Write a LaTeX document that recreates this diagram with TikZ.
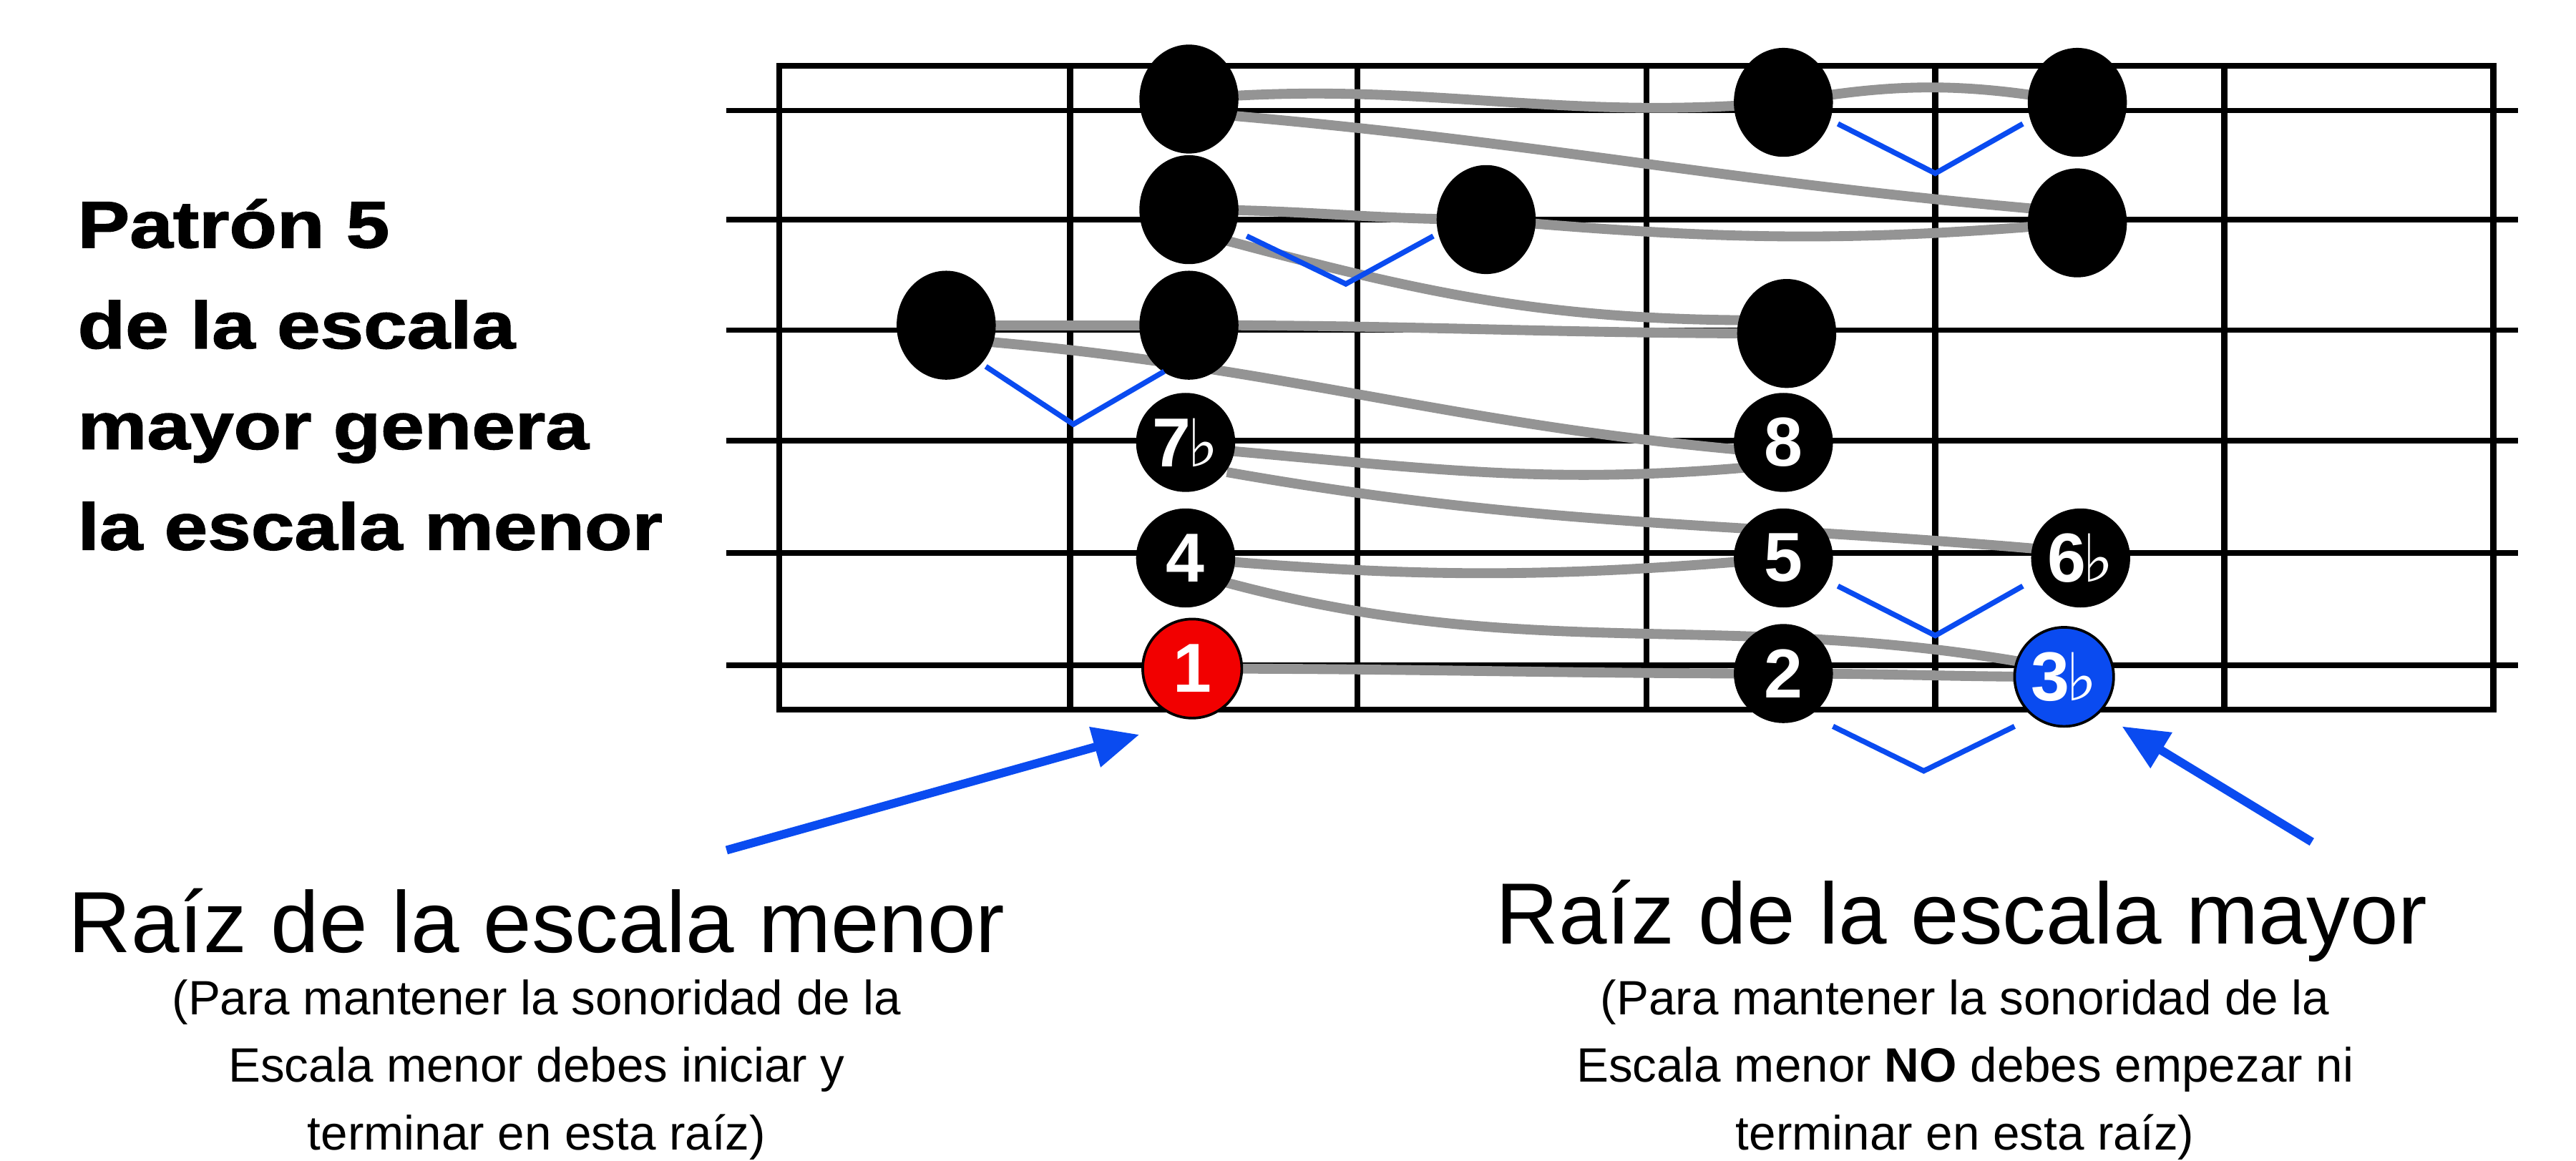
\documentclass[tikz,border=0pt]{standalone}
\usepackage{fontspec}
\setmainfont{Liberation Sans}
\newfontfamily\symf{DejaVu Sans}
\newfontfamily\titlef[FakeStretch=1.18,FakeBold=1.6]{Liberation Sans Bold}
\usetikzlibrary{arrows.meta,shapes.geometric}
\definecolor{myblue}{HTML}{0A4BF0}
\begin{document}
\begin{tikzpicture}[x=0.5pt,y=-0.5pt,
 big/.style={ellipse,fill=black,minimum width=30pt,minimum height=33pt,inner sep=0pt},
 num/.style={circle,fill=black,minimum size=30pt,inner sep=0pt,text=white,font=\bfseries\fontsize{21}{21}\selectfont},
 conn/.style={draw=black!42,line width=3pt},
 vee/.style={draw=myblue,line width=1.6pt},
 arr/.style={draw=myblue,line width=2.6pt,-{Triangle[length=14pt,width=12pt]}},
 strg/.style={line width=1.6pt}]
\newcommand\flt{\kern-1pt{\symf\fontsize{20}{20}\selectfont ♭}}
\useasboundingbox (0,0) rectangle (1560,703);
% fretboard
\draw[line width=1.8pt] (472,40) rectangle (1510,430);
\foreach \x in {648,822,997,1172,1347} \draw[line width=1.8pt] (\x,40) -- (\x,430);
\foreach \y in {67,133,200,267,335,403} \draw[strg] (440,\y) -- (1525,\y);
% dot positions
\coordinate (a1) at (720,60); \coordinate (a2) at (1080,62); \coordinate (a3) at (1258,62);
\coordinate (b1) at (720,127); \coordinate (b2) at (900,133); \coordinate (b3) at (1258,135);
\coordinate (c0) at (573,197); \coordinate (c1) at (720,197); \coordinate (c2) at (1082,202);
\coordinate (d1) at (718,268); \coordinate (d2) at (1080,268);
\coordinate (e1) at (718,338); \coordinate (e2) at (1080,338); \coordinate (e3) at (1260,338);
\coordinate (f1) at (722,405); \coordinate (f2) at (1080,408); \coordinate (f3) at (1250,410);
% connectors
\draw[conn] (a1) to[out=5,in=185] (a2);
\draw[conn] ([shift={(25,10)}]a1) to[out=-5,in=175] ([shift={(-20,-8)}]b3);
\draw[conn] (a2) to[out=10,in=170] (a3);
\draw[conn] (b1) to[out=0,in=180] (b2);
\draw[conn] ([shift={(20,18)}]b1) to[out=-15,in=180] ([shift={(-15,-8)}]c2);
\draw[conn] (b2) to[out=-5,in=185] (b3);
\draw[conn] (c0) to[out=0,in=180] (c1);
\draw[conn] ([shift={(25,10)}]c0) to[out=-5,in=175] ([shift={(-20,5)}]d2);
\draw[conn] (c1) to[out=0,in=180] (c2);
\draw[conn] ([shift={(25,5)}]d1) to[out=-5,in=185] ([shift={(-20,15)}]d2);
\draw[conn] ([shift={(25,18)}]d1) to[out=-10,in=175] ([shift={(-20,-5)}]e3);
\draw[conn] (e1) to[out=-5,in=185] (e2);
\draw[conn] ([shift={(25,15)}]e1) to[out=-15,in=170] ([shift={(-20,-8)}]f3);
\draw[conn] (f1) to[out=0,in=180] (f2);
\draw[conn] (f2) to[out=0,in=180] (f3);
% dots
\foreach \n in {a1,a2,a3,b1,b2,b3,c0,c1,c2} \node[big] at (\n) {};
\node[num] (n7) at (d1) {7\flt};
\node[num] (n8) at (d2) {8};
\node[num] (n4) at (e1) {4};
\node[num] (n5) at (e2) {5};
\node[num] (n6) at (e3) {6\flt};
\node[num,fill=red!95!black,draw=black,line width=0.8pt] (n1) at (f1) {1};
\node[num] (n2) at (f2) {2};
\node[num,fill=myblue,draw=black,line width=0.8pt] (n3) at (f3) {3\flt};
% vees
\draw[vee] (597,222) -- (650,257) -- (705,225);
\draw[vee] (755,143) -- (815,172) -- (868,143);
\draw[vee] (1113,75) -- (1172,105) -- (1225,75);
\draw[vee] (1113,355) -- (1172,385) -- (1225,355);
\draw[vee] (1110,440) -- (1165,467) -- (1220,440);
% arrows
\coordinate (s1) at (440,515); \coordinate (t1) at (690,445);
\coordinate (s2) at (1400,510); \coordinate (t2) at (1285,440);
\draw[arr] (s1) -- (t1);
\draw[arr] (s2) -- (t2);
% texts
\node[anchor=west,align=left,font=\titlef\fontsize{20}{30.5}\selectfont] (title) at (40,227) {Patrón 5\\de la escala\\mayor genera\\la escala menor};
\node[font=\fontsize{26.3}{26}\selectfont] (r1) at (325,558) {Raíz de la escala menor};
\node[align=center,font=\fontsize{14.6}{20.5}\selectfont] (m1) at (325,648) {(Para mantener la sonoridad de la\\Escala menor debes iniciar y\\terminar en esta raíz)};
\node[font=\fontsize{26.3}{26}\selectfont] (r2) at (1188,558) {Raíz de la escala mayor};
\node[align=center,font=\fontsize{14.6}{20.5}\selectfont] (m2) at (1190,648) {(Para mantener la sonoridad de la\\Escala menor \textbf{NO} debes empezar ni\\terminar en esta raíz)};
\end{tikzpicture}
\end{document}
